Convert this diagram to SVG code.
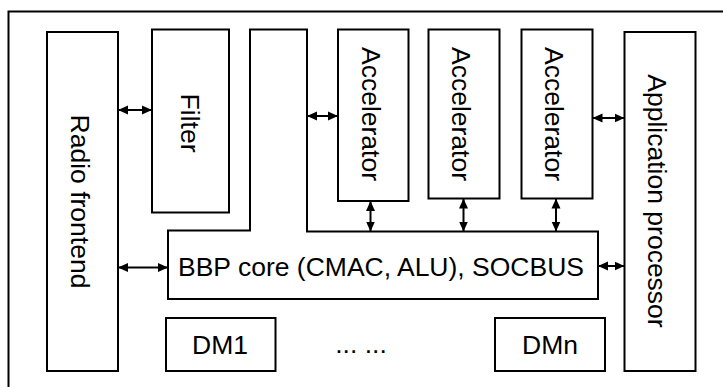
<svg xmlns="http://www.w3.org/2000/svg" width="723" height="387" viewBox="0 0 723 387">
<defs>
<style>
.box{fill:#fff;stroke:#000;stroke-width:2}
.frame{fill:#fff;stroke:#000;stroke-width:2}
.t{font-family:"Liberation Sans",Arial,sans-serif;font-size:26.5px;fill:#000}
.c{stroke:#000;stroke-width:2;fill:none;marker-start:url(#ah);marker-end:url(#ah)}
</style>
<marker id="ah" markerUnits="userSpaceOnUse" markerWidth="10" markerHeight="10" refX="10" refY="5" orient="auto-start-reverse" viewBox="0 0 10 10">
<path d="M0,0.5 L10,5 L0,9.5 z" fill="#000"/>
</marker>
</defs>
<rect class="frame" x="8.5" y="11.5" width="730" height="390"/>
<g id="radio">
<rect class="box" x="47" y="32" width="71" height="339"/>
<text class="t" text-anchor="middle" transform="translate(71,201.5) rotate(90)">Radio frontend</text>
</g>
<g id="filter">
<rect class="box" x="152" y="29.5" width="77" height="183"/>
<text class="t" text-anchor="middle" transform="translate(180.5,123) rotate(90)">Filter</text>
</g>
<g id="bbp">
<path class="box" d="M250,29.5 L307,29.5 L307,231.5 L598,231.5 L598,299 L168,299 L168,230.5 L250,230.5 Z"/>
<text class="t" text-anchor="middle" x="381" y="276">BBP core (CMAC, ALU), SOCBUS</text>
</g>
<g id="acc1">
<rect class="box" x="338" y="29.5" width="70.5" height="171.5"/>
<text class="t" text-anchor="middle" transform="translate(361.5,114) rotate(90)">Accelerator</text>
</g>
<g id="acc2">
<rect class="box" x="428.5" y="29.5" width="71" height="169"/>
<text class="t" text-anchor="middle" transform="translate(452,114) rotate(90)">Accelerator</text>
</g>
<g id="acc3">
<rect class="box" x="521.5" y="29.5" width="71" height="169"/>
<text class="t" text-anchor="middle" transform="translate(545,114) rotate(90)">Accelerator</text>
</g>
<g id="app">
<rect class="box" x="624.5" y="32" width="71" height="339"/>
<text class="t" text-anchor="middle" transform="translate(648,201) rotate(90)">Application processor</text>
</g>
<g id="dm1">
<rect class="box" x="166" y="318" width="109.5" height="53"/>
<text class="t" text-anchor="middle" x="220" y="354">DM1</text>
</g>
<g id="dmn">
<rect class="box" x="495" y="318" width="110" height="53"/>
<text class="t" text-anchor="middle" x="550" y="354">DMn</text>
</g>
<text class="t" text-anchor="middle" x="361" y="353">... ...</text>
<g id="connectors">
<line class="c" x1="118" y1="110" x2="152" y2="110"/>
<line class="c" x1="307" y1="116" x2="338" y2="116"/>
<line class="c" x1="592.5" y1="118" x2="624.5" y2="118"/>
<line class="c" x1="118" y1="267.5" x2="168" y2="267.5"/>
<line class="c" x1="598" y1="266" x2="624.5" y2="266"/>
<line class="c" x1="370.5" y1="201" x2="370.5" y2="231.5"/>
<line class="c" x1="463.5" y1="198.5" x2="463.5" y2="231.5"/>
<line class="c" x1="556" y1="198.5" x2="556" y2="231.5"/>
</g>
</svg>
